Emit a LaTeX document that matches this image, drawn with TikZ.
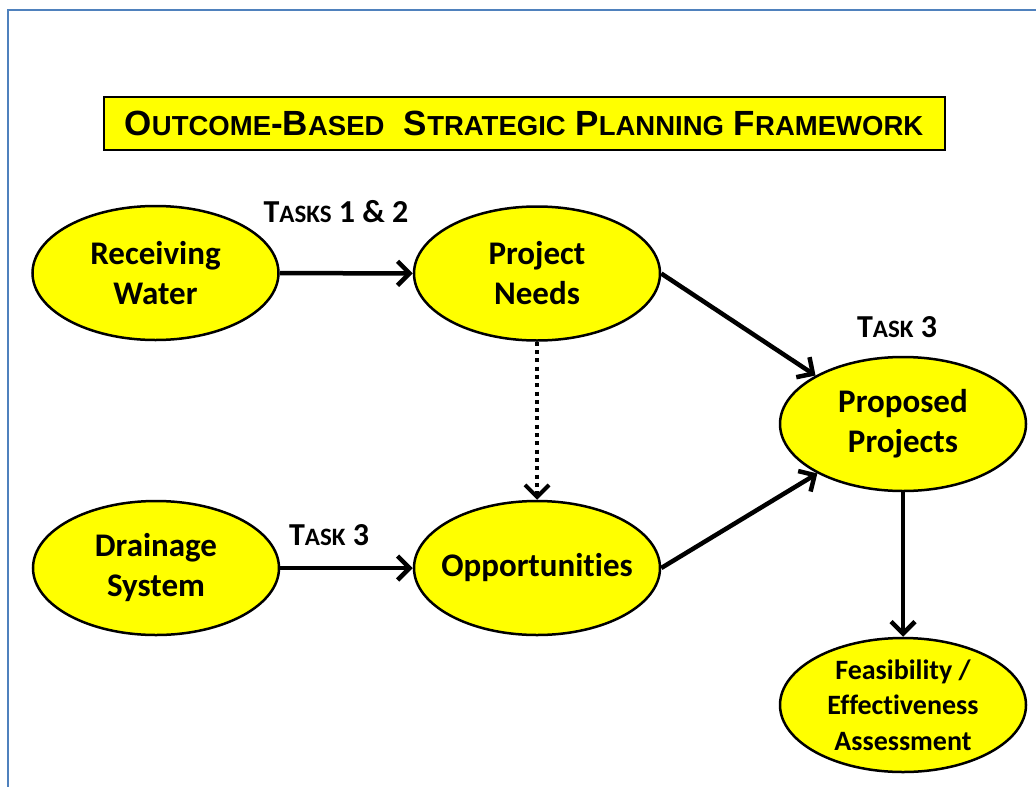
\documentclass[tikz,border=0pt]{standalone}
\usepackage{fontspec}
\setmainfont{Carlito}[Ligatures=NoCommon]
\newfontfamily\titlefont{Liberation Sans}
\usetikzlibrary{shapes.geometric,arrows.meta}
\definecolor{frameblue}{RGB}{79,129,189}
\definecolor{ovalyellow}{RGB}{255,255,0}
% fake small caps: first letter big, rest small
\newcommand\tsc[2]{{\fontsize{35}{40}\selectfont #1}{\fontsize{27.5}{30}\selectfont #2}}
\newcommand\ksc[2]{{\fontsize{32}{34}\selectfont #1}{\fontsize{25}{26}\selectfont #2}}
\begin{document}
\begin{tikzpicture}[x=1pt,y=-1pt,
  oval/.style={ellipse,draw,line width=2.5pt,fill=ovalyellow,minimum width=246pt,minimum height=134pt,inner xsep=-40pt,inner ysep=-30pt,align=center,font=\bfseries\fontsize{33}{40}\selectfont},
  tasklabel/.style={inner sep=0pt,font=\bfseries\fontsize{32}{34}\selectfont},
  flow/.style={line width=4.5pt,-{Straight Barb[length=12pt,width=24pt]}}]
\useasboundingbox (0,0) rectangle (1036,787);
\draw[frameblue,line width=2pt] (8,787)--(8,10)--(1036,10);
% title
\node[draw,line width=2pt,fill=ovalyellow,minimum width=841pt,minimum height=53pt,inner sep=0pt,font=\titlefont\bfseries\fontsize{35}{40}\selectfont] (title) at (524,123.5)
  {\tsc{O}{UTCOME}-\tsc{B}{ASED}\ \ \tsc{S}{TRATEGIC} \tsc{P}{LANNING} \tsc{F}{RAMEWORK}};
% ovals
\node[oval] (rw) at (155.5,273) {Receiving\\Water};
\node[oval] (pn) at (537,273.5) {Project\\Needs};
\node[oval] (ds) at (156,568) {Drainage\\System};
\node[oval] (op) at (537,568) {Opportunities};
\node[oval] (pp) at (903,424) {Proposed\\Projects};
\node[oval,font=\bfseries\fontsize{28}{35.5}\selectfont] (fa) at (903,705) {Feasibility /\\Effectiveness\\Assessment};
% task labels
\node[tasklabel] (t12) at (336,212) {\ksc{T}{ASKS} 1 \& 2};
\node[tasklabel] (t3a) at (329,535) {\ksc{T}{ASK} 3};
\node[tasklabel] (t3b) at (897,327) {\ksc{T}{ASK} 3};
% arrows
\draw[flow] (rw)--(pn);
\draw[flow] (ds)--(op);
\draw[flow] (pn.east)--(pp.151);
\draw[flow] (op.east)--(pp.210);
\draw[flow] (pp.south)--(fa.north);
\draw[flow,line width=4pt,dash pattern=on 4pt off 4.3pt] (pn.south)--(op.north);
\end{tikzpicture}
\end{document}
